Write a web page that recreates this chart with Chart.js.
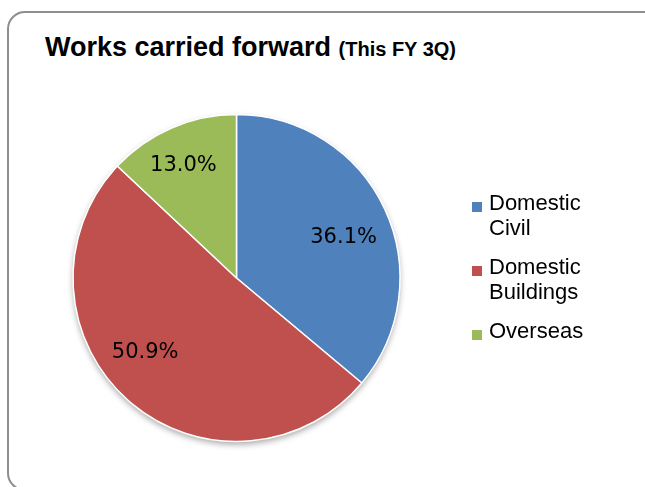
<!DOCTYPE html>
<html>
<head>
<meta charset="utf-8">
<script src="https://cdn.jsdelivr.net/npm/chart.js@4"></script>
<style>
  html, body { margin: 0; padding: 0; background: #ffffff; }
  body { width: 645px; height: 487px; position: relative; overflow: hidden; font-family: "Liberation Sans", Arial, sans-serif; }
  #frame { position: absolute; left: 7px; top: 11px; width: 660px; height: 480px; border: 2px solid #8e8e8e; border-radius: 18px; box-sizing: border-box; }
  #title { position: absolute; left: 45px; top: 32px; white-space: nowrap; font-weight: bold; color: #000; line-height: 31px; }
  #title .main { font-size: 27px; }
  #title .sub { font-size: 20px; margin-left: 3px; }
  #wrap { position: absolute; left: 0; top: 0; width: 645px; height: 487px; }
  #legend { position: absolute; left: 472px; top: 190px; }
  .item { position: relative; padding-left: 17px; font-size: 22px; line-height: 25px; color: #000; margin-bottom: 14px; }
  .item .box { position: absolute; left: 0; top: 12px; width: 10px; height: 10px; }
</style>
</head>
<body>
<div id="frame"></div>
<div id="title"><span class="main">Works carried forward</span> <span class="sub">(This FY 3Q)</span></div>
<div id="wrap"><canvas id="c"></canvas></div>
<div id="legend"></div>
<script>
const categories = [["Domestic", "Civil"], ["Domestic", "Buildings"], ["Overseas"]];
const shares = [36.1, 50.9, 13.0];
const colors = ["#4F81BD", "#C0504D", "#9BBB59"];
const valueLabels = ["36.1%", "50.9%", "13.0%"];

// HTML legend built from the category arrays
const legendEl = document.getElementById("legend");
categories.forEach((lines, i) => {
  const d = document.createElement("div");
  d.className = "item";
  const b = document.createElement("span");
  b.className = "box";
  b.style.background = colors[i];
  d.appendChild(b);
  lines.forEach((t) => {
    const s = document.createElement("div");
    s.textContent = t;
    d.appendChild(s);
  });
  legendEl.appendChild(d);
});

const pieShadow = {
  id: "pieShadow",
  beforeDatasetsDraw(chart) {
    const arc = chart.getDatasetMeta(0).data[0];
    if (!arc) return;
    const ctx = chart.ctx;
    ctx.save();
    ctx.shadowColor = "rgba(0,0,0,0.35)";
    ctx.shadowBlur = 6;
    ctx.shadowOffsetY = 3;
    ctx.fillStyle = "#ffffff";
    ctx.beginPath();
    ctx.arc(arc.x, arc.y, arc.outerRadius, 0, Math.PI * 2);
    ctx.fill();
    ctx.restore();
  }
};

// label placement (best-fit style): angular shift in degrees and radius fraction per slice
const sliceLabels = {
  id: "sliceLabels",
  afterDatasetsDraw(chart, args, opts) {
    const ctx = chart.ctx;
    const meta = chart.getDatasetMeta(0);
    ctx.save();
    ctx.font = '21px "DejaVu Sans"';
    ctx.fillStyle = "#000000";
    ctx.textAlign = "center";
    ctx.textBaseline = "middle";
    meta.data.forEach((arc, i) => {
      const p = opts.placement[i];
      const mid = (arc.startAngle + arc.endAngle) / 2 + p.shift * Math.PI / 180;
      const r = arc.outerRadius * p.radius;
      ctx.fillText(valueLabels[i], arc.x + Math.cos(mid) * r, arc.y + Math.sin(mid) * r);
    });
    ctx.restore();
  }
};

new Chart(document.getElementById("c"), {
  type: "pie",
  data: {
    labels: categories,
    datasets: [{
      data: shares,
      backgroundColor: colors,
      borderColor: "#ffffff",
      borderWidth: 1.5,
      hoverOffset: 0
    }]
  },
  options: {
    responsive: true,
    maintainAspectRatio: false,
    animation: false,
    layout: { padding: { left: 72.25, top: 113.75, right: 244.25, bottom: 44.75 } },
    plugins: {
      legend: { display: false },
      tooltip: { enabled: false },
      title: { display: false },
      sliceLabels: {
        placement: [
          { shift: 4.4, radius: 0.70 },
          { shift: 9.3, radius: 0.72 },
          { shift: -1.9, radius: 0.76 }
        ]
      }
    }
  },
  plugins: [pieShadow, sliceLabels]
});
</script>
</body>
</html>
